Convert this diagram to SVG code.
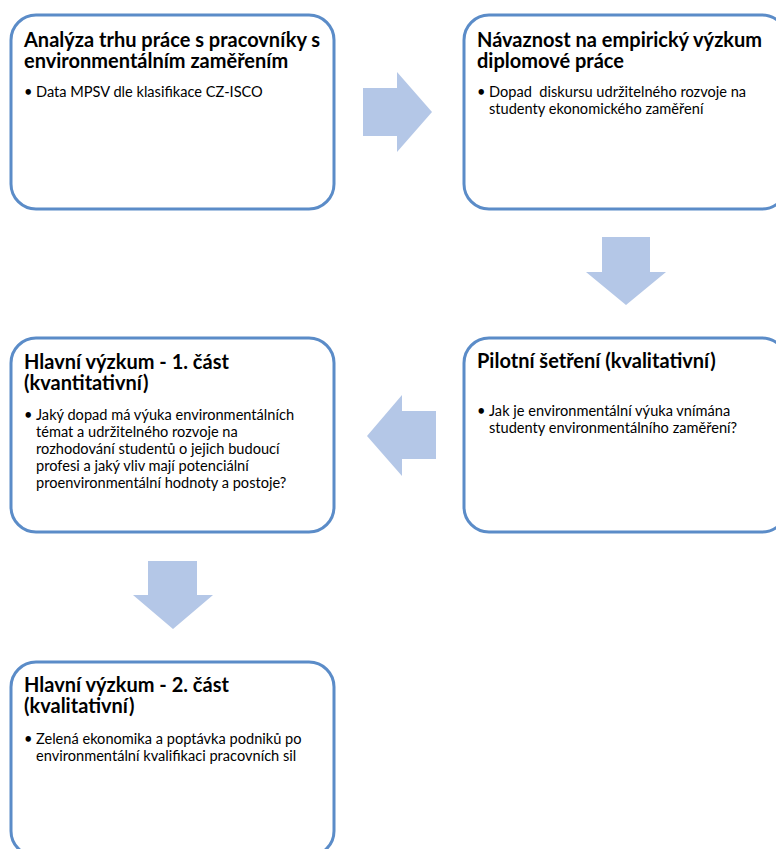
<svg xmlns="http://www.w3.org/2000/svg" width="776" height="849" viewBox="0 0 776 849">
<style>
.box{fill:#ffffff;stroke:#5b8cc8;stroke-width:3}
.arr{fill:#b4c7e7;stroke:none}
.t{font-family:Lato,"Noto Sans",sans-serif;font-weight:bold;font-size:20px;fill:#000}
.b{font-family:Lato,"Noto Sans",sans-serif;font-size:14.6px;fill:#000}
</style>
<rect width="776" height="849" fill="#ffffff"/>
<g id="connectors">
<polygon class="arr" points="363,88 397,88 397,72 432,112 397,152 397,136 363,136"/>
<polygon class="arr" points="602,237 650,237 650,272 666,272 626,305 586,272 602,272"/>
<polygon class="arr" points="436,411 402,411 402,395 367,436 402,476 402,459 436,459"/>
<polygon class="arr" points="148,561 197,561 197,595 213,595 173,629 133,595 148,595"/>
</g>
<g id="n1">
<rect class="box" x="11" y="15" width="323" height="194" rx="25"/>
<text class="t" x="24" y="47">Analýza trhu práce s pracovníky s</text>
<text class="t" x="24" y="68">environmentálním zaměřením</text>
<text class="b" x="24" y="97">•</text>
<text class="b" x="36" y="97">Data MPSV dle klasifikace CZ-ISCO</text>
</g>
<g id="n2">
<rect class="box" x="464" y="15" width="323" height="194" rx="25"/>
<text class="t" x="477" y="47">Návaznost na empirický výzkum</text>
<text class="t" x="477" y="68">diplomové práce</text>
<text class="b" x="477" y="97">•</text>
<text class="b" x="489" y="97" xml:space="preserve">Dopad  diskursu udržitelného rozvoje na</text>
<text class="b" x="489" y="114">studenty ekonomického zaměření</text>
</g>
<g id="n3">
<rect class="box" x="464" y="338" width="323" height="194" rx="25"/>
<text class="t" x="477" y="368">Pilotní šetření (kvalitativní)</text>
<text class="b" x="477" y="416">•</text>
<text class="b" x="489" y="416">Jak je environmentální výuka vnímána</text>
<text class="b" x="489" y="433">studenty environmentálního zaměření?</text>
</g>
<g id="n4">
<rect class="box" x="11" y="338" width="323" height="194" rx="25"/>
<text class="t" x="24" y="369">Hlavní výzkum - 1. část</text>
<text class="t" x="24" y="390">(kvantitativní)</text>
<text class="b" x="24" y="420">•</text>
<text class="b" x="36" y="420">Jaký dopad má výuka environmentálních</text>
<text class="b" x="36" y="437">témat a udržitelného rozvoje na</text>
<text class="b" x="36" y="454">rozhodování studentů o jejich budoucí</text>
<text class="b" x="36" y="471">profesi a jaký vliv mají potenciální</text>
<text class="b" x="36" y="488">proenvironmentální hodnoty a postoje?</text>
</g>
<g id="n5">
<rect class="box" x="11" y="662" width="323" height="194" rx="25"/>
<text class="t" x="24" y="692">Hlavní výzkum - 2. část</text>
<text class="t" x="24" y="713">(kvalitativní)</text>
<text class="b" x="24" y="744">•</text>
<text class="b" x="36" y="744">Zelená ekonomika a poptávka podniků po</text>
<text class="b" x="36" y="761">environmentální kvalifikaci pracovních sil</text>
</g>
</svg>
